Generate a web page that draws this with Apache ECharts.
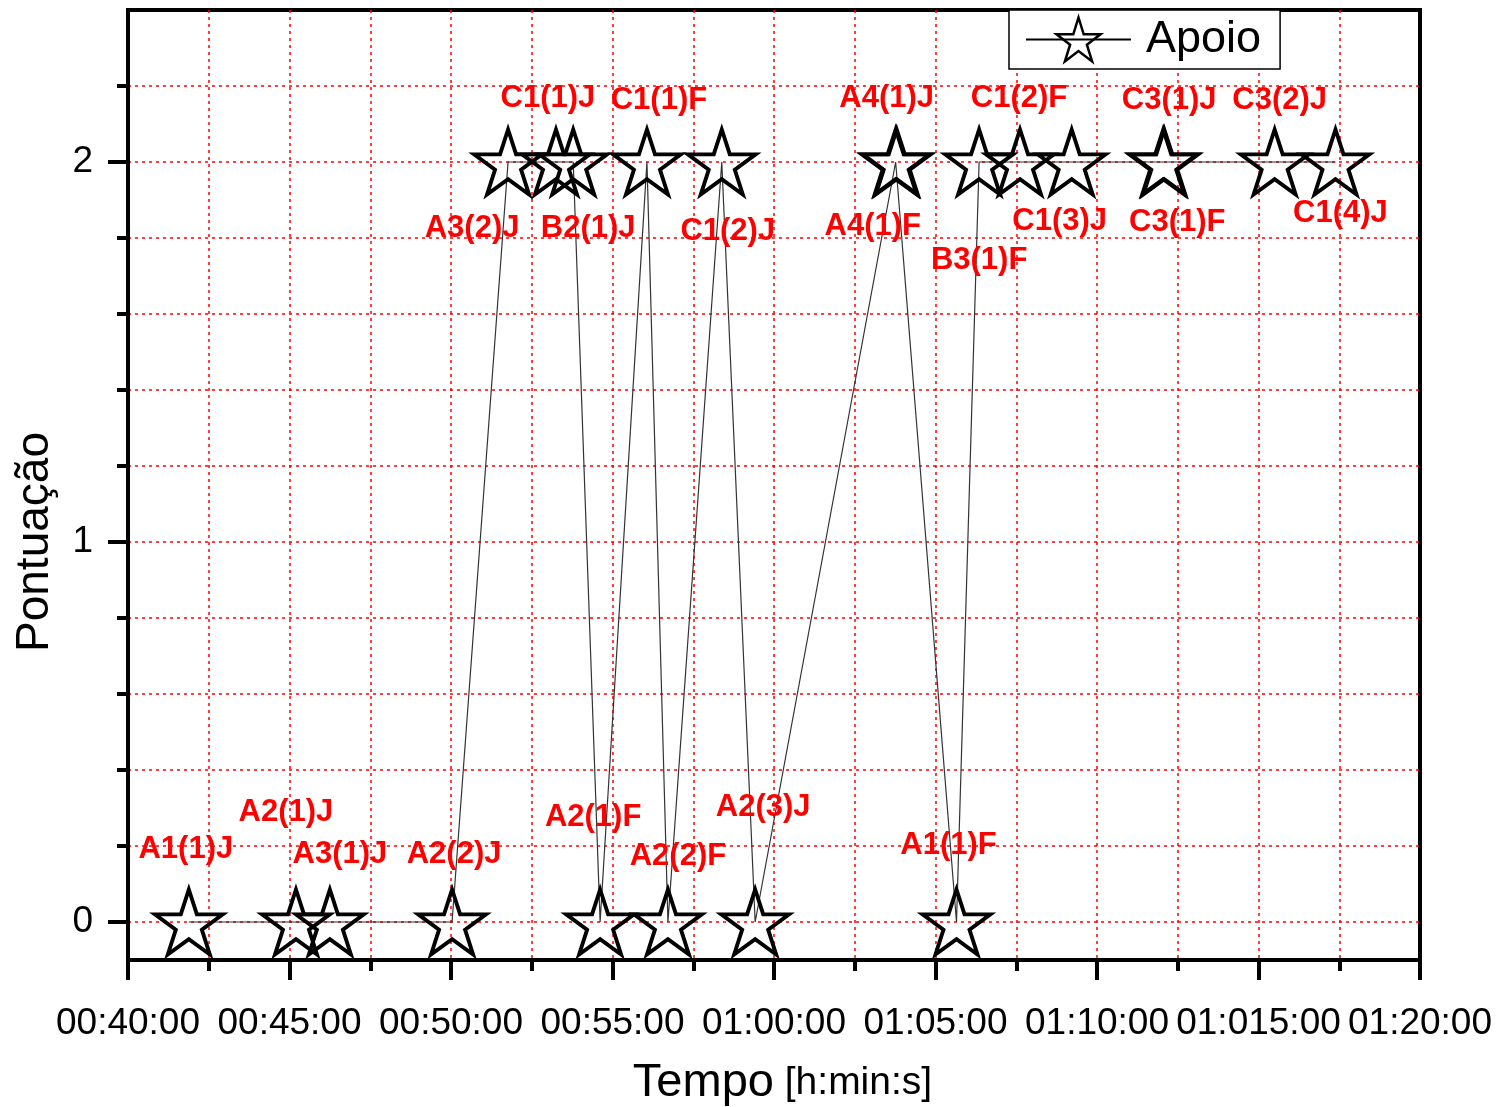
<!DOCTYPE html>
<html>
<head>
<meta charset="utf-8">
<title>Apoio</title>
<script src="https://cdn.jsdelivr.net/npm/echarts@6/dist/echarts.min.js"></script>
<style>
html, body { margin: 0; padding: 0; background: #fff; }
#chart { width: 1503px; height: 1107px; }
</style>
</head>
<body>
<div id="chart"></div>
<script>
// instantes de cada apoio (h:min:s)
const tempos = [
  '00:41:53', '00:45:12', '00:46:15', '00:50:02', '00:51:46', '00:53:15',
  '00:53:47', '00:54:37', '00:56:04', '00:56:43', '00:58:23', '00:59:25',
  '01:03:46', '01:03:48', '01:05:39', '01:06:21', '01:07:37', '01:09:13',
  '01:12:03', '01:12:05', '01:15:30', '01:17:23'
]
const pontuacao = [0, 0, 0, 0, 2, 2, 2, 0, 2, 0, 2, 0, 2, 2, 0, 2, 2, 2, 2, 2, 2, 2]
const rotulos = [
  'A1(1)J', 'A2(1)J', 'A3(1)J', 'A2(2)J', 'A3(2)J', 'C1(1)J',
  'B2(1)J', 'A2(1)F', 'C1(1)F', 'A2(2)F', 'C1(2)J', 'A2(3)J',
  'A4(1)J', 'A4(1)F', 'A1(1)F', 'B3(1)F', 'C1(2)F', 'C1(3)J',
  'C3(1)J', 'C3(1)F', 'C3(2)J', 'C1(4)J'
]
const xTickLabels = [
  '00:40:00', '00:45:00', '00:50:00', '00:55:00', '01:00:00',
  '01:05:00', '01:10:00', '01:015:00', '01:20:00'
]
const yTickValues = [0, 1, 2]
const yMinorTickValues = [0.2, 0.4, 0.6, 0.8, 1.2, 1.4, 1.6, 1.8, 2.2]
const yGridValues = [0, 0.2, 0.4, 0.6, 0.8, 1, 1.2, 1.4, 1.6, 1.8, 2, 2.2]

// posição de cada rótulo em px, relativa ao centro da estrela
const rotuloOffsets = [
  [-3, -73], [-10, -110], [10, -68], [2, -68], [-36, 66], [-8, -64],
  [15, 66], [-7, -105], [12, -62], [10, -66], [6, 69], [8, -115],
  [-9, -64], [-24, 64], [-8, -77], [0, 98], [-1, -64], [-12, 59],
  [6, -62], [13, 60], [5, -62], [5, 51]
]

const FONT = "'Liberation Sans', Arial, sans-serif"
const STAR = 'path://M50 0L61.23 34.55L97.55 34.55L68.16 55.9L79.39 90.45L50 69.1L20.61 90.45L31.84 55.9L2.45 34.55L38.77 34.55Z'
const X_MIN = 2400
const X_STEP = 300

const toSeconds = (s) => {
  const [h, m, sec] = s.split(':').map(Number)
  return h * 3600 + m * 60 + sec
}

const gridLine = { show: true, lineStyle: { color: '#ff0000', width: 1.5, type: [3, 4] } }
const yRange = { type: 'value', min: -0.1, max: 2.4, position: 'left' }

const chart = echarts.init(document.getElementById('chart'))

chart.setOption({
  animation: false,
  backgroundColor: '#fff',
  textStyle: { fontFamily: FONT },
  grid: {
    left: 128, right: 83, top: 10, bottom: 147,
    outerBoundsMode: 'none',
    show: true, borderColor: '#000', borderWidth: 4
  },
  legend: {
    data: ['Apoio'],
    left: 1009, top: 10,
    padding: [2, 19, 2, 16],
    itemWidth: 105, itemHeight: 55,
    backgroundColor: '#fff', borderColor: '#000', borderWidth: 1.5,
    lineStyle: { color: '#000', width: 2 },
    itemStyle: { color: 'rgba(255,255,255,0)', borderColor: '#000', borderWidth: 2.5 },
    textStyle: { fontSize: 45, lineHeight: 51, color: '#000', fontFamily: FONT, padding: [4, 0, 0, 10] }
  },
  xAxis: {
    type: 'value',
    min: X_MIN, max: 4800, interval: X_STEP,
    axisLine: { show: true, onZero: false, lineStyle: { color: '#000', width: 4 } },
    axisTick: { show: true, length: 20, lineStyle: { color: '#000', width: 4 } },
    minorTick: { show: true, splitNumber: 2, length: 11, lineStyle: { color: '#000', width: 4 } },
    splitLine: { ...gridLine, showMinLine: false, showMaxLine: false },
    minorSplitLine: gridLine,
    axisLabel: {
      fontSize: 37, color: '#000', margin: 45, fontFamily: FONT,
      formatter: (v) => xTickLabels[Math.round((v - X_MIN) / X_STEP)] || ''
    },
    name: '{a|Tempo}{b| [h:min:s]}',
    nameLocation: 'middle',
    nameGap: 100,
    nameTextStyle: {
      color: '#000',
      padding: [0, 0, 0, 17],
      rich: {
        a: { fontSize: 47, color: '#000', fontFamily: FONT },
        b: { fontSize: 39, color: '#000', fontFamily: FONT }
      }
    }
  },
  yAxis: [
    {
      // eixo principal: rótulos e marcas maiores
      ...yRange,
      axisLine: { show: true, onZero: false, lineStyle: { color: '#000', width: 4 } },
      axisTick: { show: true, length: 20, customValues: yTickValues, lineStyle: { color: '#000', width: 4 } },
      splitLine: { show: false },
      axisLabel: { fontSize: 37, color: '#000', margin: 35, fontFamily: FONT, customValues: yTickValues },
      name: 'Pontuação',
      nameLocation: 'middle',
      nameGap: 70,
      nameTextStyle: { fontSize: 46, color: '#000', fontFamily: FONT, padding: [0, 114, 0, 0] }
    },
    {
      // marcas menores
      ...yRange,
      axisLine: { show: true, onZero: false, lineStyle: { color: '#000', width: 4 } },
      axisTick: { show: true, length: 11, customValues: yMinorTickValues, lineStyle: { color: '#000', width: 4 } },
      splitLine: { show: false },
      axisLabel: { show: false }
    },
    {
      // grade horizontal a cada 0.2
      ...yRange,
      axisLine: { show: false },
      axisTick: { show: false, customValues: yGridValues },
      axisLabel: { show: false },
      splitLine: gridLine
    }
  ],
  series: [
    {
      name: 'Apoio',
      type: 'line',
      data: tempos.map((t, i) => ({
        value: [toSeconds(t), pontuacao[i]],
        label: { offset: rotuloOffsets[i] }
      })),
      symbol: STAR,
      symbolSize: [68, 65],
      showAllSymbol: true,
      clip: false,
      itemStyle: { color: 'rgba(255,255,255,0)', borderColor: '#000', borderWidth: 3.8 },
      lineStyle: { color: '#333', width: 1.2 },
      label: {
        show: true,
        position: 'inside',
        formatter: (p) => rotulos[p.dataIndex],
        color: '#ff0000',
        fontSize: 31,
        fontWeight: 'bold',
        fontFamily: FONT
      },
      emphasis: { disabled: true },
      z: 3
    }
  ]
})
</script>
</body>
</html>
